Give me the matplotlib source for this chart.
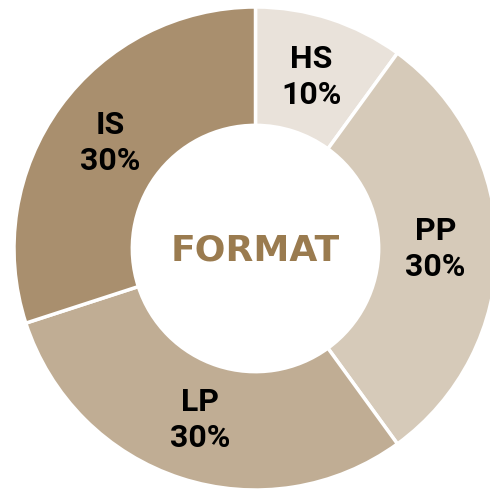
import numpy as np
import matplotlib.pyplot as plt

# 格式分布
labels = ["HS", "PP", "LP", "IS"]
shares = [10, 30, 30, 30]
colors = ["#e9e2da", "#d6cab9", "#c0ad94", "#a98f6e"]

# 圓心與半徑（像素）
CX, CY, R = 255.5, 248.5, 241.5
W, H = 490, 492

fig = plt.figure(figsize=(4.9, 4.92), dpi=100)
ax = fig.add_axes([0, 0, 1, 1])

wedges, _ = ax.pie(
    shares,
    colors=colors,
    startangle=90,
    counterclock=False,
    radius=1.0,
    wedgeprops=dict(width=0.49, edgecolor="white", linewidth=2.5),
)

# 標籤放在環的中間
r_label = 0.745
for w, name, val in zip(wedges, labels, shares):
    ang = np.deg2rad((w.theta1 + w.theta2) / 2)
    x, y = r_label * np.cos(ang), r_label * np.sin(ang)
    ax.text(x, y, f"{name}\n{val}%", ha="center", va="center",
            fontsize=23, fontweight="bold", family="Roboto",
            color="black", linespacing=1.25)

ax.text(0, -0.01, "FORMAT", ha="center", va="center", fontsize=26,
        fontweight="bold", family="DejaVu Sans", color="#9a7b4f")

ax.set_xlim(-CX / R, (W - CX) / R)
ax.set_ylim(-(H - CY) / R, CY / R)
ax.set_aspect("auto")
ax.axis("off")

fig.savefig("out.png", dpi=100)
